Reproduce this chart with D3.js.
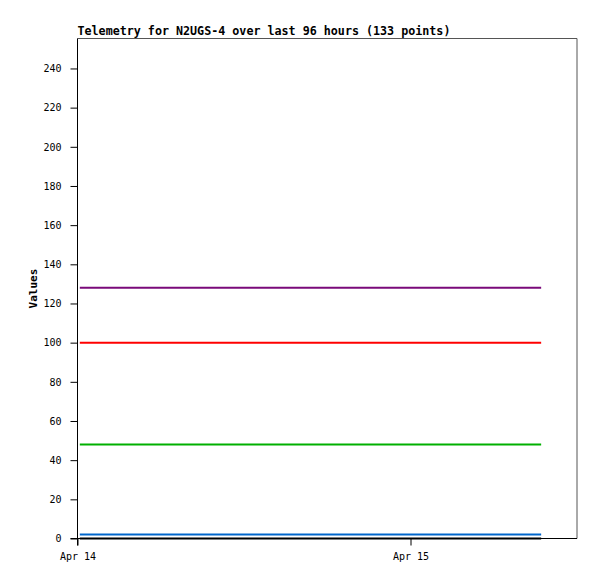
<!DOCTYPE html>
<html>
<head>
<meta charset="utf-8">
<script src="https://cdn.jsdelivr.net/npm/d3@7"></script>
<style>
  body { margin: 0; background: #fff; }
  text { font-family: "DejaVu Sans Mono", monospace; }
</style>
</head>
<body>
<div id="chart"></div>
<script>
// series values (flat over the window)
var seriesNames = ["purple", "red", "green", "blue", "black"];
var seriesValues = [128, 100, 48, 2, 0];
var seriesColors = ["#7a0a7a", "#ff0000", "#00b000", "#0066cc", "#000000"];

// first and last sample time of the 133 points
var sampleTimes = ["2024-04-14T00:10", "2024-04-15T09:25"];

var xTicks = ["2024-04-14T00:00", "2024-04-15T00:00"];
var yTicks = [0, 20, 40, 60, 80, 100, 120, 140, 160, 180, 200, 220, 240];

var margin = {top: 38.5, right: 20, bottom: 40.5, left: 77.5},
    width = 597 - margin.left - margin.right,
    height = 579 - margin.top - margin.bottom;

var parse = d3.timeParse("%Y-%m-%dT%H:%M");

var x = d3.scaleTime()
    .domain([parse("2024-04-14T00:00"), parse("2024-04-15T12:00")])
    .range([0, width]);
var y = d3.scaleLinear()
    .domain([0, 255.3])
    .range([height, 0]);

var svg = d3.select("#chart").append("svg")
    .attr("width", 597)
    .attr("height", 579)
  .append("g")
    .attr("transform", "translate(" + margin.left + "," + margin.top + ")");

// top and right frame
svg.append("path")
    .attr("d", "M0,0H" + width + "V" + height)
    .attr("fill", "none")
    .attr("stroke", "#555")
    .attr("stroke-width", 1);

// lines
var line = d3.line()
    .x(function(d) { return x(d.t); })
    .y(function(d) { return y(d.v); });

seriesValues.forEach(function(v, i) {
  var pts = sampleTimes.map(function(t) { return {t: parse(t), v: v}; });
  svg.append("path")
      .datum(pts)
      .attr("class", "line " + seriesNames[i])
      .attr("fill", "none")
      .attr("stroke", seriesColors[i])
      .attr("stroke-width", 2)
      .attr("d", line);
});

// y axis
svg.append("g")
    .call(d3.axisLeft(y).tickValues(yTicks).tickSize(7).tickPadding(9))
    .call(function(g) {
      g.select(".domain").attr("d", "M0,0V" + (height + 7));
      g.selectAll("text").style("font-size", "10px");
    });

// x axis
svg.append("g")
    .attr("transform", "translate(0," + height + ")")
    .call(d3.axisBottom(x)
      .tickValues(xTicks.map(parse))
      .tickFormat(d3.timeFormat("%b %d"))
      .tickSize(7).tickPadding(7))
    .call(function(g) {
      g.select(".domain").attr("d", "M-7,0H" + width);
      g.selectAll("text").style("font-size", "10px");
    });

// title
svg.append("text")
    .attr("x", 0)
    .attr("y", -4)
    .style("font-size", "11.7px")
    .style("font-weight", "bold")
    .text("Telemetry for N2UGS-4 over last 96 hours (133 points)");

// y label
svg.append("text")
    .attr("transform", "translate(" + (-41) + "," + (height / 2) + ") rotate(-90)")
    .attr("text-anchor", "middle")
    .style("font-size", "11px")
    .style("font-weight", "bold")
    .text("Values");
</script>
</body>
</html>
